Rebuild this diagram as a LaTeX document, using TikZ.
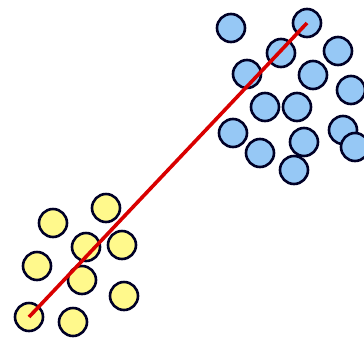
\documentclass[tikz,border=0pt]{standalone}
\begin{document}
\begin{tikzpicture}[x=1pt,y=-1pt,
  pt/.style={circle,draw=black!85!blue,line width=2.6pt,minimum size=28pt,inner sep=0pt},
  yel/.style={pt,fill=yellow!45},
  blu/.style={pt,fill={rgb,255:red,150;green,200;blue,245}}]
\useasboundingbox (0,0) rectangle (364,341);
% yellow cluster
\node[yel] (y1) at (53,223) {};
\node[yel] (y2) at (106,208) {};
\node[yel] (y3) at (86,247) {};
\node[yel] (y4) at (122,245) {};
\node[yel] (y5) at (37,266) {};
\node[yel] (y6) at (82,280) {};
\node[yel] (y7) at (124,296) {};
\node[yel] (y8) at (29,317) {};
\node[yel] (y9) at (73,322) {};
% blue cluster
\node[blu] (b1) at (231,28) {};
\node[blu] (b2) at (307,23) {};
\node[blu] (b3) at (281,53) {};
\node[blu] (b4) at (338,51) {};
\node[blu] (b5) at (247,74) {};
\node[blu] (b6) at (313,75) {};
\node[blu] (b7) at (351,90) {};
\node[blu] (b8) at (265,107) {};
\node[blu] (b9) at (297,107) {};
\node[blu] (b10) at (233,133) {};
\node[blu] (b11) at (260,153) {};
\node[blu] (b12) at (304,142) {};
\node[blu] (b13) at (343,130) {};
\node[blu] (b14) at (355,147) {};
\node[blu] (b15) at (294,170) {};
% regression line
\draw[red!85!black,line width=3.6pt] (y8.center) -- (b2.center);
\end{tikzpicture}
\end{document}
